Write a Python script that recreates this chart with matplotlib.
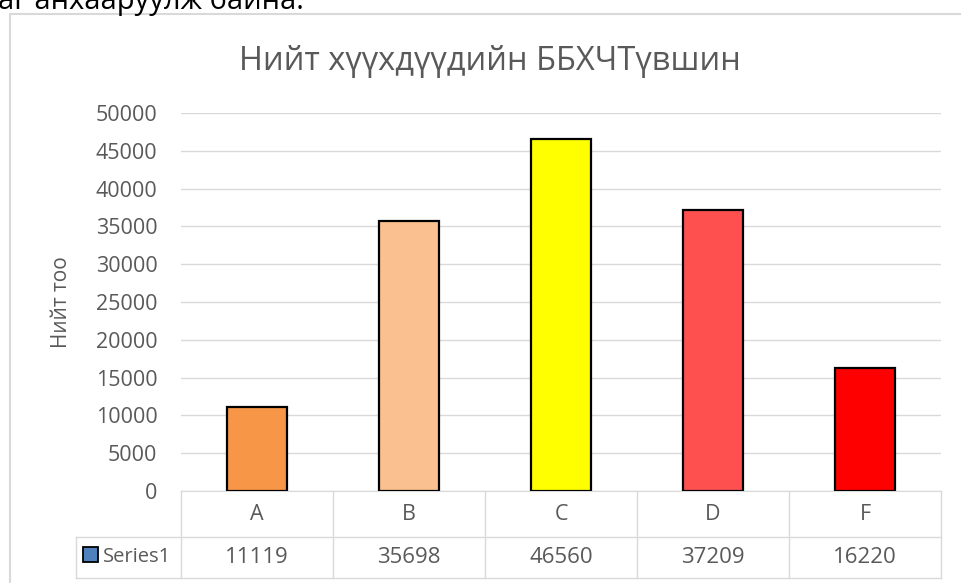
import matplotlib.pyplot as plt
from matplotlib.patches import Rectangle
from matplotlib.transforms import blended_transform_factory

plt.rcParams['font.family'] = ['Open Sans', 'DejaVu Sans']

# data
title = 'Нийт хүүхдүүдийн ББХЧТүвшин'
y_label = 'Нийт тоо'
series_name = 'Series1'
categories = ['A', 'B', 'C', 'D', 'F']
values = [11119, 35698, 46560, 37209, 16220]
bar_colors = ['#F79646', '#FAC090', '#FFFF00', '#FF5050', '#FF0000']
y_ticks = [0, 5000, 10000, 15000, 20000, 25000, 30000, 35000, 40000, 45000, 50000]
top_text = 'аг анхааруулж байна.'

W, H = 962, 583
grey = '#595959'
line = '#D9D9D9'

def fx(px):
    return px / W

def fy(py):
    return 1 - py / H

fig = plt.figure(figsize=(W / 100, H / 100), dpi=100)

# frame of the chart object (runs off the page on the right / bottom)
fig.add_artist(Rectangle((fx(9.5), fy(600)), fx(990) - fx(9.5), fy(14) - fy(600),
                         transform=fig.transFigure, fill=False,
                         edgecolor=line, lw=1.5))

# leftover line of document text above the chart (cut off at the top, as in the page)
fig.text(fx(-2), fy(9), top_text, fontsize=21, ha='left', va='baseline', color='black')

ax = fig.add_axes([fx(181), fy(491), fx(941) - fx(181), fy(113) - fy(491)])
x = range(len(categories))
ax.bar(x, values, width=0.39, color=bar_colors, edgecolor='black', linewidth=1.6, zorder=3)
ax.set_xlim(-0.5, len(categories) - 0.5)
ax.set_ylim(0, 50000)
ax.set_yticks(y_ticks)
ax.set_xticks([])
ax.grid(axis='y', color=line, lw=1)
ax.set_axisbelow(True)
for s in ['top', 'right', 'left']:
    ax.spines[s].set_visible(False)
ax.spines['bottom'].set_color(line)
ax.tick_params(axis='y', length=0, pad=17, labelsize=15.5, labelcolor=grey)

fig.text(fx(62), fy(302), y_label, rotation=90, ha='center', va='center',
         fontsize=15, color=grey)
fig.text(fx(490), fy(62), title, ha='center', va='center', fontsize=23.5, color=grey)

# data table under the axis
trans = blended_transform_factory(ax.transData, ax.transAxes)
r1 = -46 / 378
r2 = -87 / 378
xl = -0.5 - 105 / 152
n = len(categories)
kw = dict(transform=trans, clip_on=False, color=line, lw=1)
ax.plot([xl, n - 0.5], [r1, r1], **kw)
ax.plot([xl, n - 0.5], [r2, r2], **kw)
ax.plot([xl, xl], [r1, r2], **kw)
for i in range(n + 1):
    ax.plot([i - 0.5, i - 0.5], [0, r2], **kw)
for i, (c, v) in enumerate(zip(categories, values)):
    ax.text(i, r1 / 2, c, transform=trans, ha='center', va='center', fontsize=15.5, color=grey)
    ax.text(i, (r1 + r2) / 2, str(v), transform=trans, ha='center', va='center',
            fontsize=16, color=grey)
ax.add_patch(Rectangle((-0.5 - 98 / 152, -63 / 378 - 7.5 / 378), 15 / 152, 15 / 378,
                       transform=trans, facecolor='#4F81BD', edgecolor='black',
                       lw=1.3, clip_on=False))
ax.text(-0.5 - 78 / 152, (r1 + r2) / 2, series_name, transform=trans, ha='left',
        va='center', fontsize=14.5, color=grey)

fig.savefig('out.png', dpi=100)
